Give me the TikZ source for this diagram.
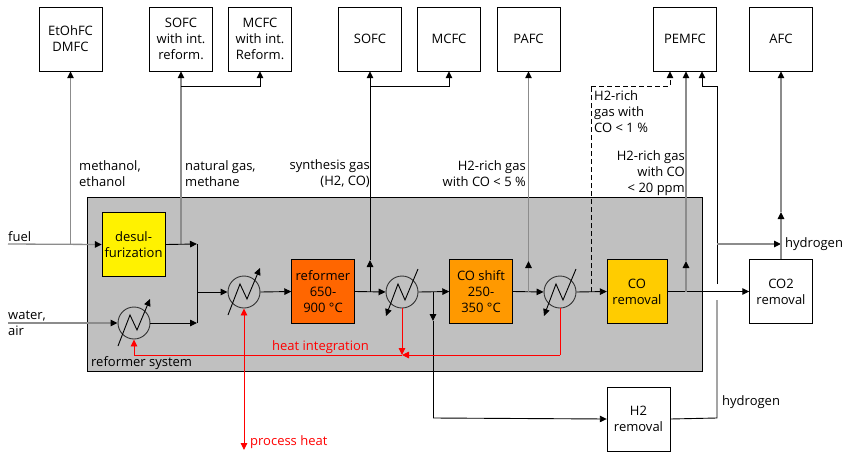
\documentclass[tikz,border=0pt]{standalone}
\usepackage{fontspec}
\setmainfont{Open Sans}
\usetikzlibrary{arrows.meta}
\definecolor{sysgray}{HTML}{C0C0C0}
\definecolor{feedgray}{HTML}{8C8C8C}
\definecolor{cshift}{HTML}{FF9900}
\definecolor{cremoval}{HTML}{FFCC00}
\definecolor{creformer}{HTML}{FF6600}
\tikzset{
  every node/.style={font=\fontsize{13}{16}\selectfont},
  unit/.style={draw,inner sep=0pt,minimum width=63pt,minimum height=64pt,align=center},
  hx/.style={draw=black!80,line width=0.9pt,circle,inner sep=0pt,minimum size=32pt},
  lab/.style={inner sep=0pt,anchor=west,align=left},
  labr/.style={inner sep=0pt,anchor=east,align=right},
  flow/.style={line width=0.9pt,-{Triangle[length=7pt,width=6.5pt]}},
  pipe/.style={line width=0.9pt},
  feed/.style={line width=1.3pt,draw=feedgray},
  feedin/.style={feed,-{Triangle[length=7pt,width=6.5pt,color=black]}},
  heat/.style={line width=0.9pt,draw=red,-{Triangle[length=7pt,width=6.5pt,color=red]}},
}
\begin{document}
\begin{tikzpicture}[x=1pt,y=-1pt]
\useasboundingbox (0,0) rectangle (847,453);
\node[draw,fill=sysgray,inner sep=0pt,minimum width=615pt,minimum height=174pt] (sys) at (394.5,284) {};
\node[unit] (etoh) at (70.5,39) {EtOhFC\\DMFC};
\node[unit] (sofci) at (181,39) {SOFC\\with int.\\reform.};
\node[unit] (mcfci) at (260,39) {MCFC\\with int.\\Reform.};
\node[unit] (sofc) at (370,39) {SOFC};
\node[unit] (mcfc) at (449,39) {MCFC};
\node[unit] (pafc) at (528.5,39) {PAFC};
\node[unit] (pemfc) at (685,39) {PEMFC};
\node[unit] (afc) at (781,39) {AFC};
\node[unit,fill=yellow] (desulf) at (133.5,244.5) {desul-\\furization};
\node[unit,fill=creformer] (reformer) at (323,291.5) {reformer\\650-\\900 °C};
\node[unit,fill=cshift] (shift) at (481,291.5) {CO shift\\250-\\350 °C};
\node[unit,fill=cremoval,minimum width=60pt] (corem) at (637,291.5) {CO\\removal};
\node[unit,fill=white] (co2rem) at (781,291.5) {CO2\\removal};
\node[unit,fill=white] (h2rem) at (638.5,419) {H2\\removal};
\node[hx] (hxa) at (134,323) {};
\node[hx] (hxb) at (244,292) {};
\node[hx] (hxc) at (402,292) {};
\node[hx] (hxd) at (560,292) {};
\foreach \n in {hxa,hxb} \draw[line width=0.9pt,-{Triangle[length=7pt,width=6.5pt]}] ([shift={(-16,23)}]\n.center) -- ([shift={(-4,-8)}]\n.center) -- ([shift={(3,7)}]\n.center) -- ([shift={(16,-24)}]\n.center);
\foreach \n in {hxc,hxd} \draw[line width=0.9pt,-{Triangle[length=7pt,width=6.5pt]}] ([shift={(16,-23)}]\n.center) -- ([shift={(3,8)}]\n.center) -- ([shift={(-4,-8)}]\n.center) -- ([shift={(-16,24)}]\n.center);
\coordinate (fuelin) at (8,244);
\coordinate (waterin) at (8,323);
\coordinate (jeth) at (70.5,244);
\coordinate (jnat) at (181,244);
\coordinate (jnatb) at (181,86);
\coordinate (jmix) at (197,244);
\coordinate (jmixb) at (197,323);
\coordinate (jmixc) at (197,292);
\coordinate (jsyn) at (370,292);
\coordinate (tsyn) at (370,260);
\coordinate (jsynb) at (370,86);
\coordinate (jh) at (433,292);
\coordinate (th) at (433,321);
\coordinate (jhb) at (433,418);
\coordinate (jraf) at (528.5,292);
\coordinate (traf) at (528.5,261);
\coordinate (jdash) at (591,292);
\coordinate (jdashb) at (591,86);
\coordinate (jdashc) at (670,86);
\coordinate (jpem) at (686,292);
\coordinate (tpem) at (686,261);
\coordinate (hybot) at (717,418);
\coordinate (gapa) at (717,300);
\coordinate (gapb) at (717,284);
\coordinate (hytop) at (717,86);
\coordinate (hytopb) at (702,86);
\coordinate (jhy) at (717,244);
\coordinate (thy) at (781,244);
\coordinate (tafc) at (781,212);
\coordinate (jheat) at (402,355);
\coordinate (heatl) at (134,355);
\coordinate (heatr) at (560,355);
\coordinate (procheat) at (244,450);
\draw[feedin] (fuelin) -- (desulf.west);
\draw[feedin] (jeth) -- (etoh.south);
\draw[feedin] (waterin) -- (hxa.west);
\draw[feedin] (jnat) -- (sofci.south);
\draw[flow] (desulf.east) -- (jmix);
\draw[pipe] (jmix) -- (jmixb);
\draw[flow] (hxa.east) -- (jmixb);
\draw[flow] (jmixc) -- (hxb.west);
\draw[flow] (hxb.east) -- (reformer.west);
\draw[flow] (reformer.east) -- (hxc.west);
\draw[flow] (jsyn) -- (tsyn);
\draw[pipe] (tsyn) -- (jsynb);
\draw[flow] (jsynb) -- (sofc.south);
\draw[flow] (jnatb) -| (mcfci.south);
\draw[flow] (jsynb) -| (mcfc.south);
\draw[flow] (hxc.east) -- (shift.west);
\draw[flow] (jh) -- (th);
\draw[pipe] (th) -- (jhb);
\draw[flow] (jhb) -- (h2rem.west);
\draw[flow] (shift.east) -- (hxd.west);
\draw[feedin] (jraf) -- (traf);
\draw[feedin] (traf) -- (pafc.south);
\draw[flow] (hxd.east) -- (corem.west);
\draw[pipe,dash pattern=on 5pt off 3pt] (jdash) -- (jdashb);
\draw[flow,dash pattern=on 5pt off 3pt] (jdashb) -| (jdashc |- pemfc.south);
\draw[flow] (corem.east) -- (co2rem.west);
\draw[feedin] (jpem) -- (tpem);
\draw[feedin] (tpem) -- (pemfc.south -| tpem);
\draw[pipe] (h2rem.east) -- (hybot) -- (gapa);
\draw[pipe] (gapb) -- (hytop) -- (hytopb);
\draw[flow] (hytopb) -- (hytopb |- pemfc.south);
\draw[feedin] (jhy) -- (thy);
\draw[feedin] (co2rem.north) -- (tafc);
\draw[feedin] (tafc) -- (afc.south);
\draw[heat] (hxc.south) -- (jheat);
\draw[heat] (heatr) -- (jheat);
\draw[line width=0.9pt,draw=red] (hxd.south) -- (heatr);
\draw[line width=0.9pt,draw=red] (jheat) -- (heatl);
\draw[heat] (heatl) -- (hxa.south);
\draw[heat,{Triangle[length=7pt,width=6.5pt,color=red]}-{Triangle[length=7pt,width=6.5pt,color=red]}] (hxb.south) -- (procheat);
\node[lab] (tmeth) at (79,174) {methanol,\\ethanol};
\node[lab] (tnat) at (185,174) {natural gas,\\methane};
\node[labr] (tsynt) at (370,174) {synthesis gas\\(H2, CO)};
\node[labr] (trich) at (526,174) {H2-rich gas\\with CO < 5 \%};
\node[lab] (tdash) at (594,112) {H2-rich\\gas with\\CO < 1 \%};
\node[labr] (tppm) at (685,173) {H2-rich gas\\with CO\\< 20 ppm};
\node[lab] (tfuel) at (8,237) {fuel};
\node[lab] (twater) at (8,323) {water,\\air};
\node[lab] (tsys) at (91,363) {reformer system};
\node[lab] (thya) at (785,244.5) {hydrogen};
\node[lab] (thyb) at (722,402) {hydrogen};
\node[lab,text=red] (theat) at (272,347) {heat integration};
\node[lab,text=red] (tproc) at (250,442) {process heat};
\end{tikzpicture}
\end{document}
